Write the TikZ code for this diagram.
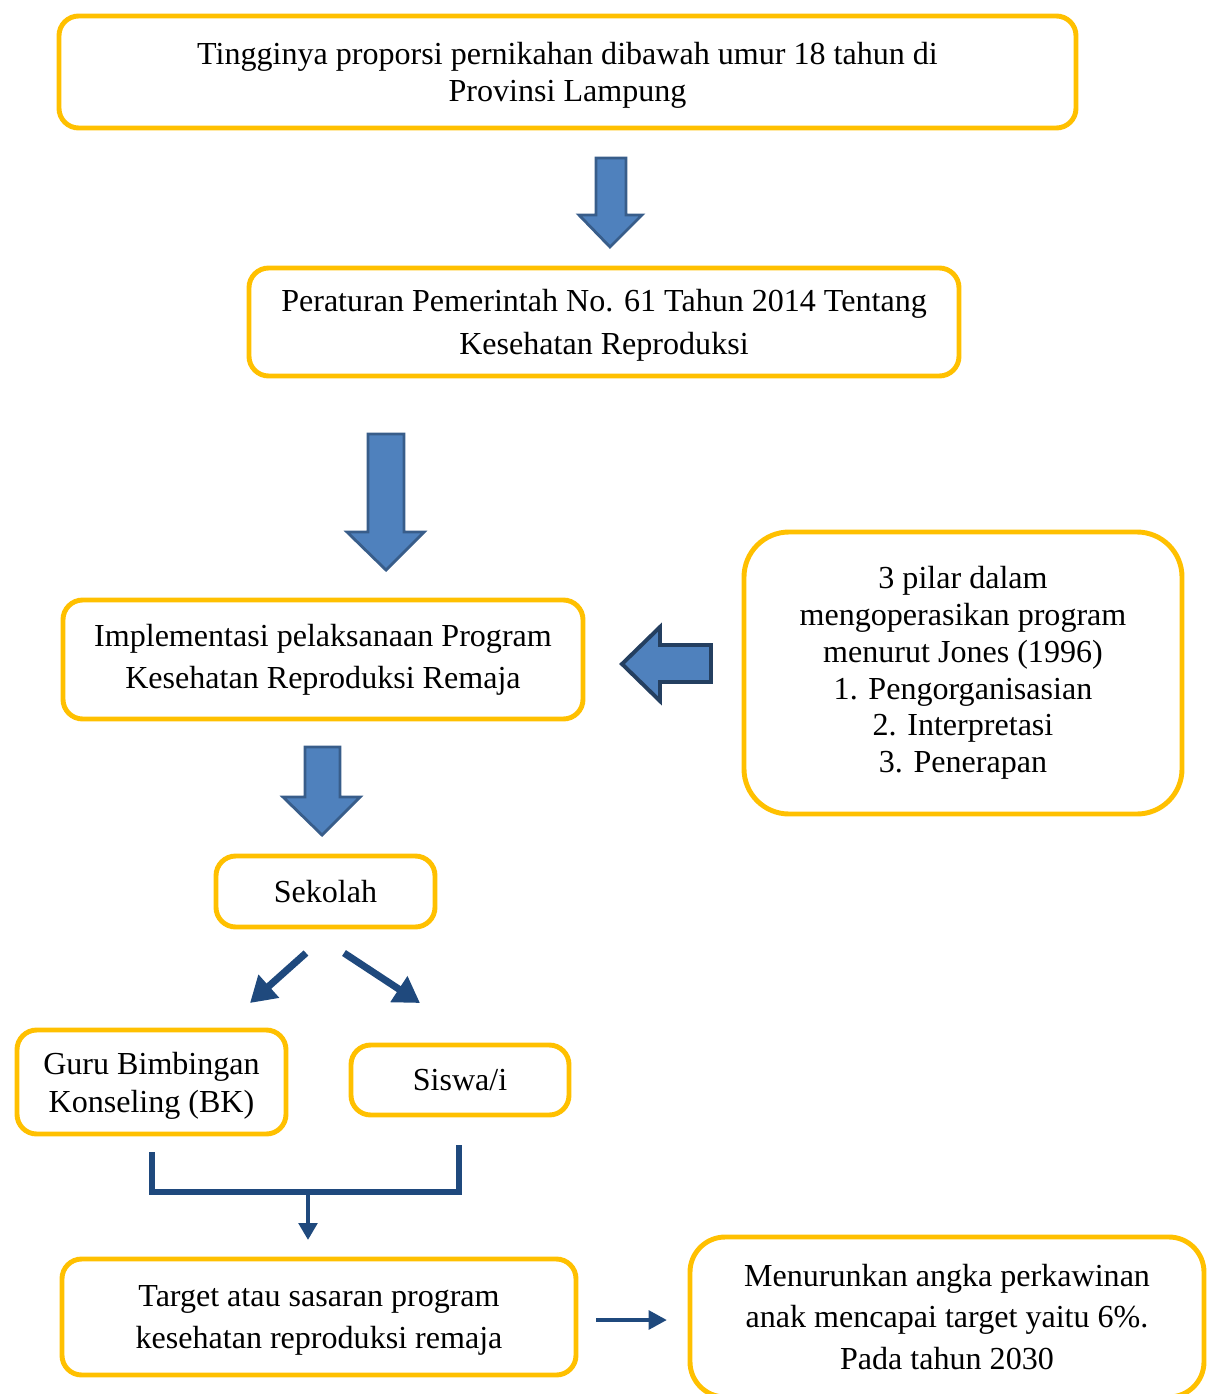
\documentclass[tikz,border=0pt]{standalone}
\usepackage{fontspec}
\setmainfont{Liberation Serif}
\usetikzlibrary{arrows.meta,calc}
\definecolor{boxgold}{HTML}{FFC000}
\definecolor{arrowfill}{HTML}{4F81BD}
\definecolor{arrowline}{HTML}{385D8A}
\definecolor{arrowdark}{HTML}{243F60}
\definecolor{linkblue}{HTML}{1F497D}

\begin{document}
\begin{tikzpicture}
	[x=0.025cm,y=-0.025cm,
	every node/.style={align=center,inner sep=0pt},
	baris/.style={font=\fontsize{22.8}{#1}\selectfont},
	kotak/.style 2 args={draw=boxgold,line width=3.5pt,rounded corners=14pt,
	minimum width=#1*0.025cm,minimum height=#2*0.025cm},
	panah/.style={draw=arrowline,fill=arrowfill,line width=2pt,line join=miter},
	garis/.style={draw=linkblue,line width=5pt,-{Triangle[length=18pt,width=21pt]}}]
	\useasboundingbox (0,0) rectangle (1208,1394);

	% kotak-kotak
	\node[kotak={1017}{112},baris=26.2,text depth=-1.5pt] (masalah) at (567.5,72)
		{Tingginya proporsi pernikahan dibawah umur 18 tahun di\\Provinsi Lampung};
	\node[kotak={710}{108},baris=30.5,text depth=-9pt] (regulasi) at (604,322)
		{Peraturan Pemerintah No. 61 Tahun 2014 Tentang\\Kesehatan Reproduksi};
	\node[kotak={520}{119},baris=29.8] (implementasi) at (323,659.5)
		{Implementasi pelaksanaan Program\\Kesehatan Reproduksi Remaja};
	\node[kotak={438}{282},baris=26.1,rounded corners=32pt] (pilar) at (963,673)
		{3 pilar dalam\\mengoperasikan program\\menurut Jones (1996)\\1. Pengorganisasian\\2. Interpretasi\\3. Penerapan};
	\node[kotak={219}{71},baris=26] (sekolah) at (325.5,891.5) {Sekolah};
	\node[kotak={269}{104},baris=27,text depth=0pt] (guru) at (151.5,1082)
		{Guru Bimbingan\\Konseling (BK)};
	\node[kotak={218}{70},baris=26] (siswa) at (460,1080) {Siswa/i};
	\node[kotak={514}{116},baris=29.8,text depth=0pt] (target) at (319,1317)
		{Target atau sasaran program\\kesehatan reproduksi remaja};
	\node[kotak={514}{160},baris=29.8,rounded corners=25pt] (tujuan) at (947,1317)
		{Menurunkan angka perkawinan\\anak mencapai target yaitu 6\%.\\Pada tahun 2030};

	% panah blok
	\draw[panah] (596,158) -- (626,158) -- (626,215) -- (642,215) -- (610,247)
		-- (579,215) -- (596,215) -- cycle;
	\draw[panah] (368,434) -- (404,434) -- (404,532) -- (424,532) -- (386,570)
		-- (347,532) -- (368,532) -- cycle;
	\draw[panah,draw=arrowdark,line width=2.8pt] (711,645) -- (711,682) -- (660,682)
		-- (660,701) -- (622,664) -- (660,627) -- (660,645) -- cycle;
	\draw[panah] (305,747) -- (340,747) -- (340,797) -- (360,797) -- (322,835)
		-- (283,797) -- (305,797) -- cycle;

	% panah garis
	\coordinate (s1) at (306,953);
	\coordinate (s2) at (250,1003);
	\coordinate (s3) at (344,953);
	\coordinate (s4) at (420,1003);
	\draw[garis] (s1) -- (s2);
	\draw[garis] (s3) -- (s4);

	\coordinate (kiri) at (152,1152);
	\coordinate (kanan) at (459,1145);
	\coordinate (temu) at (308,1192);
	\coordinate (ujung) at (308,1240);
	\draw[draw=linkblue,line width=4.2pt,line join=miter] (kiri) |- (temu) -| (kanan);
	\draw[garis,line width=3pt,-{Triangle[length=12pt,width=13pt]}] (temu) -- (ujung);

	\coordinate (t1) at (596,1320);
	\coordinate (t2) at (667,1320);
	\draw[garis,line width=3.5pt,-{Triangle[length=13pt,width=13pt]}] (t1) -- (t2);
\end{tikzpicture}
\end{document}
